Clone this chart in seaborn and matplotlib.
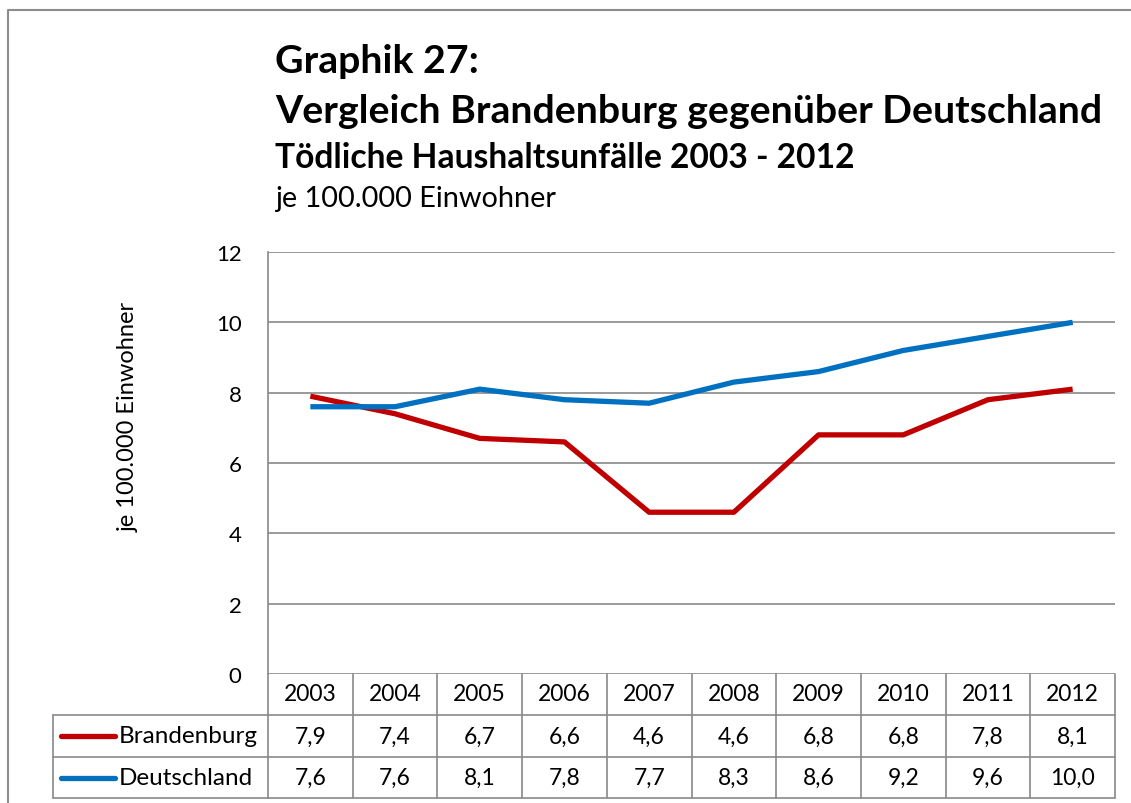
import matplotlib
matplotlib.use("Agg")
import matplotlib.pyplot as plt
import matplotlib.transforms as mtransforms
import seaborn as sns
import pandas as pd

years = ["2003", "2004", "2005", "2006", "2007", "2008", "2009", "2010", "2011", "2012"]
brandenburg = [7.9, 7.4, 6.7, 6.6, 4.6, 4.6, 6.8, 6.8, 7.8, 8.1]
deutschland = [7.6, 7.6, 8.1, 7.8, 7.7, 8.3, 8.6, 9.2, 9.6, 10.0]
series_names = ["Brandenburg", "Deutschland"]
series_colors = ["#C00000", "#0070C0"]
y_ticks = [0, 2, 4, 6, 8, 10, 12]

W, H = 1131, 804
FONT = ["Lato", "DejaVu Sans"]
GRID = "#898989"

sns.set_style("white")
plt.rcParams["font.family"] = FONT
plt.rcParams["text.color"] = "black"
plt.rcParams["ytick.color"] = "black"
plt.rcParams["axes.labelcolor"] = "black"

df = pd.DataFrame({
    "pos": list(range(len(years))) * 2,
    "wert": brandenburg + deutschland,
    "reihe": [series_names[0]] * len(years) + [series_names[1]] * len(years),
})

fig = plt.figure(figsize=(W / 100, H / 100), dpi=100)


def fy(py):
    # pixel y (von oben) -> figure fraction
    return 1 - py / H


def fx(px):
    return px / W


# Plotbereich
ax = fig.add_axes([fx(268), fy(675), fx(1115) - fx(268), fy(253) - fy(675)])
sns.lineplot(
    data=df, x="pos", y="wert", hue="reihe", palette=series_colors,
    linewidth=3.8, legend=False, ax=ax, solid_capstyle="butt",
)
ax.set_xlim(-0.5, len(years) - 0.5)
ax.set_ylim(0, 12)
ax.set_yticks(y_ticks)
ax.set_yticklabels([str(t) for t in y_ticks], fontsize=16)
ax.set_xticks([])
ax.set_xlabel("")
ax.set_ylabel("")
ax.tick_params(axis="y", length=0, pad=19)
ax.grid(axis="y", color=GRID, linewidth=1.2)
ax.set_axisbelow(True)
for side in ["top", "right", "bottom"]:
    ax.spines[side].set_visible(False)
ax.spines["left"].set_color(GRID)
ax.spines["left"].set_linewidth(1.2)

fig.text(fx(128), fy(417), "je 100.000 Einwohner", rotation=90,
         ha="center", va="center", fontsize=17)

# Datentabelle unter dem Diagramm
tr = mtransforms.blended_transform_factory(ax.transData, fig.transFigure)
row_tops = [675, 716, 758, 799]
x0, x1 = -0.5, len(years) - 0.5
for r in row_tops[1:]:
    ax.plot([x0, x1], [fy(r)] * 2, transform=tr, color=GRID, lw=1.2, clip_on=False)
    fig.add_artist(plt.Line2D([fx(53), fx(268)], [fy(r)] * 2, color=GRID, lw=1.2))
fig.add_artist(plt.Line2D([fx(53), fx(53)], [fy(716), fy(799)], color=GRID, lw=1.2))
for i in range(len(years) + 1):
    ax.plot([i - 0.5] * 2, [fy(675), fy(799)], transform=tr, color=GRID, lw=1.2, clip_on=False)

for i, y in enumerate(years):
    ax.text(i, fy(695), y, transform=tr, ha="center", va="center", fontsize=16.5)
for row, (name, vals, col) in enumerate(zip(series_names, [brandenburg, deutschland], series_colors)):
    yc = fy((row_tops[row + 1] + row_tops[row + 2]) / 2)
    for i, v in enumerate(vals):
        ax.text(i, yc, f"{v:.1f}".replace(".", ","), transform=tr,
                ha="center", va="center", fontsize=16.5)
    fig.add_artist(plt.Line2D([fx(61), fx(115)], [yc, yc], color=col, lw=3.8))
    fig.text(fx(119), yc, name, ha="left", va="center", fontsize=17.5)

# Titel
fig.text(fx(275), fy(73), "Graphik 27:", fontsize=28.3, fontweight="bold", va="baseline")
fig.text(fx(275), fy(123), "Vergleich Brandenburg gegenüber Deutschland",
         fontsize=28.3, fontweight="bold", va="baseline")
fig.text(fx(275), fy(168), "Tödliche Haushaltsunfälle 2003 - 2012",
         fontsize=24.2, fontweight="bold", va="baseline")
fig.text(fx(275), fy(207), "je 100.000 Einwohner", fontsize=20.8, va="baseline")

# äußerer Rahmen
fig.add_artist(plt.Line2D([fx(8), fx(8), fx(1131)], [fy(804), fy(11), fy(11)],
                          color="#8c8c8c", lw=1.5))

fig.savefig("out.png", dpi=100)
